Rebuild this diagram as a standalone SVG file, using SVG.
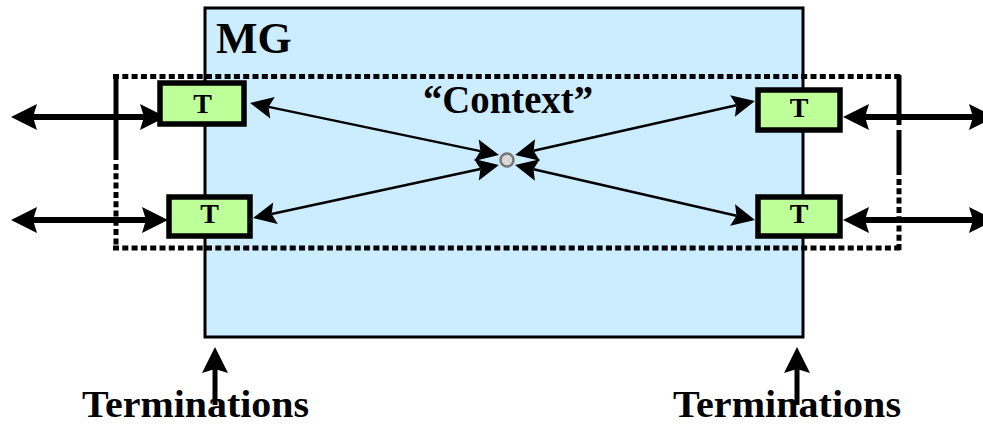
<svg xmlns="http://www.w3.org/2000/svg" width="983" height="426" viewBox="0 0 983 426">
  <style>
    .serif { font-family: "Liberation Serif", "Times New Roman", serif; fill: #000; }
    .mg { fill: #CCECFF; stroke: #000; stroke-width: 3; }
    .term { fill: #BDFF99; stroke: #000; stroke-width: 5.5; }
    .thick { stroke: #000; stroke-width: 6; fill: none; marker-start: url(#headBig); marker-end: url(#headBig); }
    .thin { stroke: #000; stroke-width: 2.5; fill: none; marker-start: url(#headSmall); marker-end: url(#headSmall); }
    .up { stroke: #000; stroke-width: 5; fill: none; marker-end: url(#headBig); }
    .dash { stroke: #000; stroke-width: 5; fill: none; stroke-dasharray: 6 3.3; }
    .solid { stroke: #000; stroke-width: 5; fill: none; }
  </style>
  <defs>
    <marker id="headBig" markerUnits="userSpaceOnUse" markerWidth="30" markerHeight="30" refX="4" refY="0" viewBox="0 -15 30 30" orient="auto-start-reverse" overflow="visible">
      <path d="M0,-13 L26,0 L0,13 L4,0 z" fill="#000"/>
    </marker>
    <marker id="headSmall" markerUnits="userSpaceOnUse" markerWidth="26" markerHeight="26" refX="4" refY="0" viewBox="0 -13 26 26" orient="auto-start-reverse" overflow="visible">
      <path d="M0,-11 L23,0 L0,11 L4,0 z" fill="#000"/>
    </marker>
  </defs>

  <!-- media gateway -->
  <g id="mg">
    <rect class="mg" x="205" y="8" width="598" height="329"/>
    <text class="serif" x="216" y="53" font-size="44" font-weight="bold">MG</text>
  </g>

  <!-- context boundary -->
  <g id="context">
    <line class="dash" x1="113" y1="76.5" x2="902" y2="76.5"/>
    <line class="dash" x1="113" y1="248" x2="902" y2="248"/>
    <line class="solid" x1="116" y1="74" x2="116" y2="160"/>
    <line class="dash" x1="116" y1="164" x2="116" y2="250"/>
    <line class="solid" x1="899" y1="75" x2="899" y2="125"/>
    <line class="solid" x1="899" y1="130" x2="899" y2="175"/>
    <line class="dash" x1="899" y1="179" x2="899" y2="250"/>
    <text class="serif" x="423" y="113" font-size="39" font-weight="bold" textLength="170" lengthAdjust="spacingAndGlyphs">“Context”</text>
    <circle cx="507" cy="160" r="6.5" fill="#D8D8D8" stroke="#777" stroke-width="2.5"/>
  </g>

  <!-- connectors -->
  <g id="connectors">
    <line class="thick" x1="33" y1="117" x2="144" y2="117"/>
    <line class="thick" x1="33" y1="220" x2="146" y2="220"/>
    <line class="thick" x1="865" y1="117" x2="973" y2="117"/>
    <line class="thick" x1="865" y1="220" x2="973" y2="220"/>
    <line class="thin" x1="268.6" y1="106.9" x2="480.4" y2="151.1"/>
    <line class="thin" x1="271.6" y1="214.0" x2="480.4" y2="169.0"/>
    <line class="thin" x1="736.4" y1="105.2" x2="533.6" y2="150.8"/>
    <line class="thin" x1="736.5" y1="215.8" x2="533.5" y2="169.2"/>
    <line class="up" x1="215" y1="405" x2="215" y2="369"/>
    <line class="up" x1="797" y1="405" x2="797" y2="369"/>
  </g>

  <!-- terminations -->
  <g id="t1">
    <rect class="term" x="160" y="83" width="84" height="41"/>
    <text class="serif" x="202.5" y="113" font-size="28" font-weight="bold" text-anchor="middle">T</text>
  </g>
  <g id="t2">
    <rect class="term" x="169" y="197" width="81" height="39"/>
    <text class="serif" x="209.5" y="223" font-size="28" font-weight="bold" text-anchor="middle">T</text>
  </g>
  <g id="t3">
    <rect class="term" x="758" y="90" width="82" height="40"/>
    <text class="serif" x="799" y="117" font-size="28" font-weight="bold" text-anchor="middle">T</text>
  </g>
  <g id="t4">
    <rect class="term" x="758" y="197" width="82" height="39"/>
    <text class="serif" x="799" y="223" font-size="28" font-weight="bold" text-anchor="middle">T</text>
  </g>

  <!-- labels -->
  <g id="labels">
    <text class="serif" x="82" y="417" font-size="38.5" font-weight="bold" textLength="227" lengthAdjust="spacingAndGlyphs">Terminations</text>
    <text class="serif" x="673" y="417" font-size="38.5" font-weight="bold" textLength="228" lengthAdjust="spacingAndGlyphs">Terminations</text>
  </g>
</svg>
